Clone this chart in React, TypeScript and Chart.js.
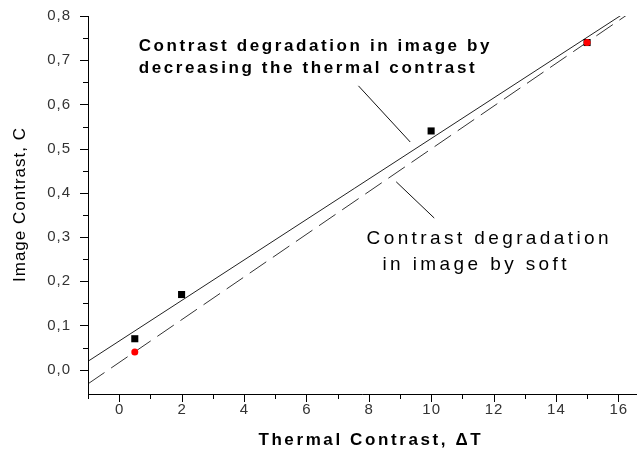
import { useEffect, useRef } from 'react';
import { Chart, registerables } from 'chart.js';

Chart.register(...registerables);

// ---- data ----
const thermalX = [0.5, 2, 10, 15];
const thermalY = [0.07, 0.17, 0.54, 0.74];
const softX = [0.5, 15];
const softY = [0.04, 0.74];
const thermalFitX = [-1, 16.6];
const thermalFitY = [0.019, 0.825];
const softFitX = [-1, 16.6];
const softFitY = [-0.032, 0.818];

const xMajorTicks = [0, 2, 4, 6, 8, 10, 12, 14, 16];
const xTickLabels = ['0', '2', '4', '6', '8', '10', '12', '14', '16'];
const xMinorTicks = [-1, 1, 3, 5, 7, 9, 11, 13, 15];
const yMajorTicks = [0, 0.1, 0.2, 0.3, 0.4, 0.5, 0.6, 0.7, 0.8];
const yTickLabels = ['0,0', '0,1', '0,2', '0,3', '0,4', '0,5', '0,6', '0,7', '0,8'];
const yMinorTicks = [0.05, 0.15, 0.25, 0.35, 0.45, 0.55, 0.65, 0.75];

const xTitle = 'Thermal Contrast, \u0394T';
const yTitle = 'Image Contrast, C';
const note1 = ['Contrast degradation in image by', 'decreasing the thermal contrast'];
const note2 = ['Contrast degradation', 'in image by soft'];

const FONT = '"Liberation Sans", Arial, sans-serif';

function zip(xs: number[], ys: number[]) {
  return xs.map((x, i) => ({ x, y: ys[i] }));
}

function drawSpaced(ctx: CanvasRenderingContext2D, text: string, x: number, y: number, spacing: number, align: 'left' | 'center' | 'right') {
  const chars = Array.from(text);
  const widths = chars.map((c) => ctx.measureText(c).width);
  const total = widths.reduce((a, b) => a + b, 0) + spacing * (chars.length - 1);
  let start = align === 'center' ? x - total / 2 : align === 'right' ? x - total : x;
  ctx.textAlign = 'left';
  chars.forEach((c, i) => {
    ctx.fillText(c, start, y);
    start += widths[i] + spacing;
  });
}

const decorPlugin = {
  id: 'decor',
  afterDraw(chart: any) {
    const ctx: CanvasRenderingContext2D = chart.ctx;
    const xs = chart.scales.x;
    const ys = chart.scales.y;
    const area = chart.chartArea;
    ctx.save();
    ctx.strokeStyle = '#000';
    ctx.lineWidth = 1;
    // axes
    ctx.beginPath();
    ctx.moveTo(area.left + 0.5, area.top);
    ctx.lineTo(area.left + 0.5, area.bottom + 0.5);
    ctx.lineTo(area.right, area.bottom + 0.5);
    ctx.stroke();
    // y ticks
    ctx.beginPath();
    yMajorTicks.forEach((v) => {
      const py = Math.round(ys.getPixelForValue(v)) + 0.5;
      ctx.moveTo(area.left - 8, py);
      ctx.lineTo(area.left, py);
    });
    yMinorTicks.forEach((v) => {
      const py = Math.round(ys.getPixelForValue(v)) + 0.5;
      ctx.moveTo(area.left - 5, py);
      ctx.lineTo(area.left, py);
    });
    // x ticks
    xMajorTicks.forEach((v) => {
      const px = Math.round(xs.getPixelForValue(v)) + 0.5;
      ctx.moveTo(px, area.bottom);
      ctx.lineTo(px, area.bottom + 8);
    });
    xMinorTicks.forEach((v) => {
      const px = Math.round(xs.getPixelForValue(v)) + 0.5;
      ctx.moveTo(px, area.bottom);
      ctx.lineTo(px, area.bottom + 5);
    });
    ctx.stroke();

    // tick labels
    ctx.fillStyle = '#333';
    ctx.font = `15px ${FONT}`;
    ctx.textBaseline = 'middle';
    yMajorTicks.forEach((v, i) => {
      drawSpaced(ctx, yTickLabels[i], area.left - 18, ys.getPixelForValue(v), 1, 'right');
    });
    ctx.textBaseline = 'top';
    xMajorTicks.forEach((v, i) => {
      drawSpaced(ctx, xTickLabels[i], xs.getPixelForValue(v), area.bottom + 8, 1, 'center');
    });

    // axis titles
    ctx.fillStyle = '#000';
    ctx.font = `bold 17px ${FONT}`;
    ctx.textBaseline = 'alphabetic';
    drawSpaced(ctx, xTitle, (area.left + area.right) / 2 + 7, area.bottom + 51, 2.6, 'center');
    ctx.save();
    ctx.translate(25, (area.top + area.bottom) / 2);
    ctx.rotate(-Math.PI / 2);
    ctx.font = `17px ${FONT}`;
    drawSpaced(ctx, yTitle, 0, 0, 1, 'center');
    ctx.restore();

    // annotations
    ctx.font = `bold 17px ${FONT}`;
    const a1x = xs.getPixelForValue(0.625);
    const a1y = ys.getPixelForValue(0.721);
    drawSpaced(ctx, note1[0], a1x, a1y, 2.6, 'left');
    drawSpaced(ctx, note1[1], a1x, a1y + 22, 2.6, 'left');
    ctx.font = `19px ${FONT}`;
    drawSpaced(ctx, note2[0], xs.getPixelForValue(7.93), ys.getPixelForValue(0.2844), 3.4, 'left');
    drawSpaced(ctx, note2[1], xs.getPixelForValue(8.44), ys.getPixelForValue(0.2256), 3.4, 'left');

    // leader lines
    ctx.strokeStyle = '#111';
    ctx.beginPath();
    ctx.moveTo(xs.getPixelForValue(7.67), ys.getPixelForValue(0.642));
    ctx.lineTo(xs.getPixelForValue(9.33), ys.getPixelForValue(0.515));
    ctx.moveTo(xs.getPixelForValue(8.88), ys.getPixelForValue(0.425));
    ctx.lineTo(xs.getPixelForValue(10.1), ys.getPixelForValue(0.343));
    ctx.stroke();
    ctx.restore();
  },
};

export default function App() {
  const ref = useRef<HTMLCanvasElement | null>(null);
  useEffect(() => {
    if (!ref.current) return;
    const chart = new Chart(ref.current, {
      type: 'scatter',
      data: {
        datasets: [
          {
            label: 'soft',
            data: zip(softX, softY),
            pointStyle: 'circle',
            pointRadius: 3.5,
            backgroundColor: '#ff0000',
            borderColor: '#ff0000',
            borderWidth: 0,
            showLine: false,
          },
          {
            label: 'thermal',
            data: zip(thermalX, thermalY),
            pointStyle: 'rect',
            pointRadius: 5,
            backgroundColor: '#000',
            borderColor: '#000',
            borderWidth: 0,
            showLine: false,
          },
          {
            label: 'thermal fit',
            data: zip(thermalFitX, thermalFitY),
            showLine: true,
            pointRadius: 0,
            borderColor: '#222',
            borderWidth: 1,
          },
          {
            label: 'soft fit',
            data: zip(softFitX, softFitY),
            showLine: true,
            pointRadius: 0,
            borderColor: '#333',
            borderWidth: 1,
            borderDash: [20, 8],
          },
        ],
      },
      options: {
        responsive: false,
        animation: false,
        devicePixelRatio: 1,
        layout: { padding: { top: 16, right: 2, left: 0, bottom: 0 } },
        plugins: { legend: { display: false }, tooltip: { enabled: false } },
        scales: {
          x: {
            type: 'linear',
            min: -1,
            max: 16.6,
            grid: { display: false },
            border: { display: false },
            ticks: { display: false },
            afterFit: (s: any) => { s.height = 56; },
          },
          y: {
            type: 'linear',
            min: -0.055,
            max: 0.8,
            grid: { display: false },
            border: { display: false },
            ticks: { display: false },
            afterFit: (s: any) => { s.width = 88; },
          },
        },
      },
      plugins: [decorPlugin],
    });
    return () => chart.destroy();
  }, []);
  return (
    <div style={{ position: 'absolute', left: 0, top: 0, width: 642, height: 450, background: '#fff' }}>
      <canvas ref={ref} width={642} height={450} style={{ display: 'block' }} />
    </div>
  );
}
